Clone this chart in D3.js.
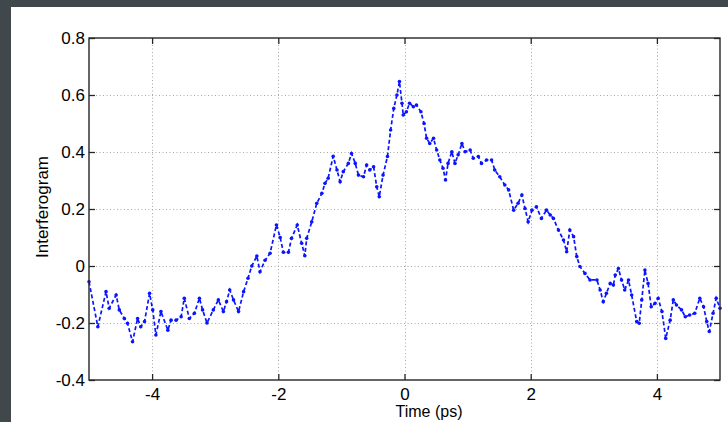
<!DOCTYPE html>
<html>
<head>
<meta charset="utf-8">
<script src="https://cdn.jsdelivr.net/npm/d3@7"></script>
<style>
  html, body { margin: 0; padding: 0; background: #40484c; }
  svg { display: block; }
</style>
</head>
<body>
<script>
// values
var timePs = [-5.00, -4.86, -4.73, -4.68, -4.57, -4.52, -4.44, -4.39, -4.31, -4.23, -4.18, -4.12,
  -4.04, -3.99, -3.94, -3.86, -3.75, -3.70, -3.62, -3.54, -3.49, -3.41, -3.33, -3.25, -3.20,
  -3.13, -3.03, -2.95, -2.87, -2.82, -2.77, -2.71, -2.63, -2.55, -2.48, -2.42, -2.34, -2.29,
  -2.21, -2.13, -2.03, -1.97, -1.92, -1.84, -1.79, -1.70, -1.63, -1.58, -1.55, -1.47, -1.39,
  -1.31, -1.26, -1.21, -1.13, -1.07, -1.02, -0.97, -0.89, -0.84, -0.78, -0.73, -0.65, -0.60,
  -0.55, -0.49, -0.44, -0.40, -0.34, -0.27, -0.22, -0.17, -0.12, -0.08, -0.04, -0.02, 0.03,
  0.08, 0.14, 0.19, 0.26, 0.31, 0.35, 0.40, 0.46, 0.51, 0.56, 0.61, 0.65, 0.69, 0.75, 0.80,
  0.85, 0.91, 0.96, 1.04, 1.09, 1.17, 1.22, 1.30, 1.38, 1.43, 1.51, 1.59, 1.65, 1.73, 1.80,
  1.86, 1.91, 1.96, 2.02, 2.09, 2.17, 2.25, 2.31, 2.36, 2.44, 2.52, 2.57, 2.62, 2.68, 2.73,
  2.78, 2.86, 2.94, 3.05, 3.10, 3.15, 3.20, 3.26, 3.31, 3.34, 3.39, 3.44, 3.49, 3.55, 3.60,
  3.68, 3.72, 3.76, 3.81, 3.86, 3.91, 3.97, 4.02, 4.08, 4.14, 4.21, 4.26, 4.31, 4.39, 4.45,
  4.52, 4.60, 4.68, 4.74, 4.79, 4.83, 4.89, 4.94, 5.00];

var interferogram = [-0.055, -0.213, -0.090, -0.148, -0.102, -0.154, -0.184, -0.201, -0.266, -0.184, -0.213, -0.195,
  -0.096, -0.154, -0.242, -0.160, -0.225, -0.190, -0.190, -0.178, -0.113, -0.184, -0.166, -0.113, -0.154,
  -0.200, -0.154, -0.119, -0.160, -0.125, -0.084, -0.119, -0.160, -0.090, -0.043, 0.000, 0.035, -0.020,
  0.020, 0.045, 0.144, 0.100, 0.048, 0.048, 0.097, 0.144, 0.080, 0.036, 0.097, 0.155, 0.220,
  0.255, 0.290, 0.308, 0.385, 0.337, 0.296, 0.331, 0.360, 0.395, 0.360, 0.319, 0.313, 0.354,
  0.337, 0.348, 0.278, 0.243, 0.319, 0.384, 0.477, 0.553, 0.600, 0.647, 0.571, 0.530, 0.541,
  0.571, 0.559, 0.565, 0.541, 0.500, 0.448, 0.430, 0.448, 0.407, 0.372, 0.343, 0.302, 0.360, 0.401, 0.360,
  0.390, 0.430, 0.401, 0.407, 0.378, 0.384, 0.360, 0.372, 0.372, 0.337, 0.313, 0.284, 0.267, 0.196, 0.220,
  0.249, 0.202, 0.155, 0.196, 0.208, 0.167, 0.196, 0.179, 0.167, 0.126, 0.091, 0.050, 0.126, 0.103, 0.033,
  -0.002, -0.026, -0.049, -0.049, -0.084, -0.125, -0.096, -0.061, -0.067, -0.032, -0.009, -0.049, -0.084, -0.049, -0.102,
  -0.195, -0.201, -0.119, -0.014, -0.061, -0.143, -0.131, -0.113, -0.160, -0.254, -0.190, -0.119, -0.137, -0.154, -0.178,
  -0.172, -0.166, -0.113, -0.143, -0.195, -0.230, -0.166, -0.113, -0.148];

var xTicks = [-4, -2, 0, 2, 4];
var xTickLabels = ["-4", "-2", "0", "2", "4"];
var yTicks = [-0.4, -0.2, 0, 0.2, 0.4, 0.6, 0.8];
var yTickLabels = ["-0.4", "-0.2", "0", "0.2", "0.4", "0.6", "0.8"];

var W = 728, H = 422;
var plot = {left: 89, right: 720, top: 38, bottom: 380};

var svg = d3.select("body").append("svg")
    .attr("width", W)
    .attr("height", H);

// dark backdrop and the white figure panel
svg.append("rect").attr("width", W).attr("height", H).attr("fill", "#40484c");
svg.append("rect")
    .attr("x", 11).attr("y", 7)
    .attr("width", W - 11).attr("height", H - 7)
    .attr("fill", "#ffffff");

var x = d3.scaleLinear().domain([-5, 5]).range([plot.left, plot.right]);
var y = d3.scaleLinear().domain([-0.4, 0.8]).range([plot.bottom, plot.top]);

var font = "'Liberation Sans', Arial, Helvetica, sans-serif";

// dotted grid
var grid = svg.append("g").attr("class", "grid")
    .attr("stroke", "#a8a8a8")
    .attr("stroke-width", 1)
    .attr("stroke-dasharray", "1,2.5");

grid.selectAll(".gx")
    .data(xTicks)
    .enter().append("line")
    .attr("x1", function(d) { return Math.round(x(d)) + 0.5; })
    .attr("x2", function(d) { return Math.round(x(d)) + 0.5; })
    .attr("y1", plot.top)
    .attr("y2", plot.bottom);

grid.selectAll(".gy")
    .data(yTicks.slice(1, -1))
    .enter().append("line")
    .attr("y1", function(d) { return Math.round(y(d)) + 0.5; })
    .attr("y2", function(d) { return Math.round(y(d)) + 0.5; })
    .attr("x1", plot.left)
    .attr("x2", plot.right);

// the data: dashed line with point markers
var pts = timePs.map(function(t, i) { return [t, interferogram[i]]; });

var line = d3.line()
    .x(function(d) { return x(d[0]); })
    .y(function(d) { return y(d[1]); });

svg.append("path")
    .datum(pts)
    .attr("d", line)
    .attr("fill", "none")
    .attr("stroke", "#0a14ff")
    .attr("stroke-width", 1.7)
    .attr("stroke-dasharray", "4,2.5");

svg.selectAll(".pt")
    .data(pts)
    .enter().append("circle")
    .attr("class", "pt")
    .attr("cx", function(d) { return x(d[0]); })
    .attr("cy", function(d) { return y(d[1]); })
    .attr("r", 1.8)
    .attr("fill", "#0a14ff");

// axes: ticks pointing inwards on all four sides, box drawn separately
var tickLen = 6;
var xAxisB = d3.axisBottom(x).tickValues(xTicks).tickSize(-tickLen).tickSizeOuter(0).tickPadding(8)
    .tickFormat(function(d, i) { return xTickLabels[i]; });
var xAxisT = d3.axisTop(x).tickValues(xTicks).tickSize(-tickLen).tickSizeOuter(0).tickFormat("");
var yAxisL = d3.axisLeft(y).tickValues(yTicks).tickSize(-tickLen).tickSizeOuter(0).tickPadding(4)
    .tickFormat(function(d, i) { return yTickLabels[i]; });
var yAxisR = d3.axisRight(y).tickValues(yTicks).tickSize(-tickLen).tickSizeOuter(0).tickFormat("");

function styleAxis(g) {
  g.select(".domain").remove();
  g.selectAll(".tick line").attr("stroke", "#262626").attr("stroke-width", 1.3);
  g.selectAll(".tick text")
      .attr("fill", "#000")
      .style("font-family", font)
      .style("font-size", "17px");
}

svg.append("g").attr("transform", "translate(0," + plot.bottom + ")").call(xAxisB).call(styleAxis);
svg.append("g").attr("transform", "translate(0," + plot.top + ")").call(xAxisT).call(styleAxis);
svg.append("g").attr("transform", "translate(" + plot.left + ",0)").call(yAxisL).call(styleAxis);
svg.append("g").attr("transform", "translate(" + plot.right + ",0)").call(yAxisR).call(styleAxis);

svg.append("rect")
    .attr("x", plot.left)
    .attr("y", plot.top)
    .attr("width", plot.right - plot.left)
    .attr("height", plot.bottom - plot.top)
    .attr("fill", "none")
    .attr("stroke", "#262626")
    .attr("stroke-width", 1.4);

// axis labels
svg.append("text")
    .attr("x", 429)
    .attr("y", 417)
    .attr("text-anchor", "middle")
    .style("font-family", font)
    .style("font-size", "16px")
    .text("Time (ps)");

svg.append("text")
    .attr("transform", "translate(48,207) rotate(-90)")
    .attr("text-anchor", "middle")
    .style("font-family", font)
    .style("font-size", "17px")
    .text("Interferogram");
</script>
</body>
</html>
